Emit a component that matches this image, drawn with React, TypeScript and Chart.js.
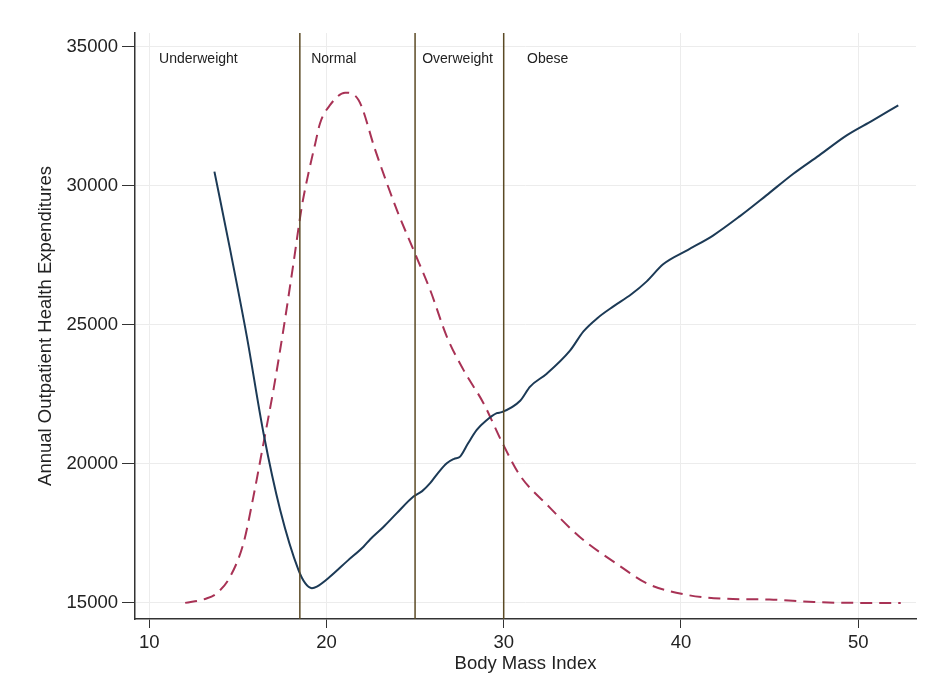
import React, { useEffect, useRef } from "react";
import { Chart, registerables } from "chart.js";

Chart.register(...registerables);

// Blue solid line: annual outpatient health expenditures by BMI
const bmiCost = [13.68, 14.57, 15.51, 16.45, 17.39, 18.42, 18.8, 19.18, 19.46, 20.21, 21.2, 22.09, 22.46, 23.2, 23.97, 24.91, 25.4, 25.85, 26.3, 26.79, 27.2, 27.54, 28.0, 28.48, 29.0, 29.61, 29.89, 30.93, 31.49, 32.43, 33.74, 34.5, 35.3, 36.19, 37.2, 38.07, 39.01, 40.4, 41.83, 43.33, 44.8, 46.34, 47.8, 49.35, 50.8, 52.26];
const costValues = [30514, 27697, 24579, 21104, 18345, 16187, 15709, 15529, 15586, 15946, 16520, 17020, 17280, 17720, 18227, 18824, 19020, 19306, 19680, 20025, 20180, 20262, 20750, 21223, 21550, 21823, 21860, 22273, 22780, 23245, 24072, 24766, 25250, 25665, 26100, 26565, 27187, 27700, 28223, 28913, 29650, 30438, 31100, 31819, 32350, 32899];

// Red dashed line: BMI density (scaled)
const bmiDensity = [12.03, 13.2, 13.82, 14.57, 15.32, 15.88, 16.45, 17.01, 17.57, 18.14, 18.61, 19.0, 19.36, 19.64, 20.21, 21.05, 21.81, 22.75, 23.41, 23.97, 24.91, 25.85, 26.79, 27.73, 28.86, 29.89, 30.93, 32.43, 34.31, 36.56, 38.07, 40.33, 42.5, 45.0, 47.5, 50.0, 52.4];
const densityValues = [15000, 15150, 15349, 15946, 17147, 18824, 20745, 22662, 24820, 27219, 29255, 30500, 31500, 32255, 32913, 33355, 33093, 31294, 30095, 29136, 27697, 26259, 24579, 23381, 22183, 20800, 19575, 18539, 17363, 16324, 15701, 15288, 15150, 15120, 15030, 15000, 15000];

// BMI category cut-offs and labels
const cutoffs = [18.5, 25, 30];
const categoryLabels = ["Underweight", "Normal", "Overweight", "Obese"];
const labelBmi = [10.56, 19.14, 25.4, 31.32];
const labelLevel = 34570;

const xTicks = [10, 20, 30, 40, 50];
const yTicks = [15000, 20000, 25000, 30000, 35000];
const xMin = 9.2;
const xMax = 53.26;
const yMin = 14420;
const yMax = 35500;

const FONT = "'Liberation Sans', Arial, sans-serif";

export default function App() {
  const canvasRef = useRef<HTMLCanvasElement | null>(null);

  useEffect(() => {
    document.body.style.margin = "0";
    document.body.style.background = "#ffffff";
    const canvas = canvasRef.current;
    if (!canvas) return;

    const labelPlugin = {
      id: "categoryLabels",
      afterDatasetsDraw(chart: any) {
        const { ctx, scales } = chart;
        ctx.save();
        ctx.font = `14px ${FONT}`;
        ctx.fillStyle = "#222222";
        ctx.textAlign = "left";
        ctx.textBaseline = "middle";
        categoryLabels.forEach((t, i) => {
          ctx.fillText(t, scales.x.getPixelForValue(labelBmi[i]), scales.y.getPixelForValue(labelLevel));
        });
        ctx.restore();
      },
    };

    const cutoffSets = cutoffs.map((c) => ({
      label: `cut${c}`,
      data: [
        { x: c, y: yMin },
        { x: c, y: yMax },
      ],
      showLine: true,
      borderColor: "#5b4a25",
      borderWidth: 1.5,
      pointRadius: 0,
    }));

    const chart = new Chart(canvas, {
      type: "scatter",
      data: {
        datasets: [
          ...cutoffSets,
          {
            label: "Expenditures",
            data: bmiCost.map((x, i) => ({ x, y: costValues[i] })),
            showLine: true,
            borderColor: "#1c3a56",
            borderWidth: 2,
            pointRadius: 0,
            cubicInterpolationMode: "monotone",
          },
          {
            label: "Density",
            data: bmiDensity.map((x, i) => ({ x, y: densityValues[i] })),
            showLine: true,
            borderColor: "#a83255",
            borderWidth: 2,
            borderDash: [12, 7],
            pointRadius: 0,
            cubicInterpolationMode: "monotone",
          },
        ] as any,
      },
      options: {
        animation: false,
        responsive: false,
        maintainAspectRatio: false,
        layout: { padding: { top: 33, right: 35, left: 0, bottom: 0 } },
        plugins: {
          legend: { display: false },
          tooltip: { enabled: false },
        },
        scales: {
          x: {
            type: "linear",
            min: xMin,
            max: xMax,
            afterBuildTicks: (scale: any) => {
              scale.ticks = xTicks.map((v) => ({ value: v }));
            },
            afterFit: (scale: any) => {
              scale.height = 78;
            },
            ticks: {
              color: "#222222",
              font: { family: FONT, size: 18.5 },
              padding: 4,
              maxRotation: 0,
              callback: (v: any) => String(v),
            },
            grid: {
              color: "#ececec",
              lineWidth: 1,
              tickColor: "#333333",
              tickLength: 9,
              drawTicks: true,
            },
            border: { display: true, color: "#333333", width: 1.5 },
            title: {
              display: true,
              text: "Body Mass Index",
              color: "#222222",
              font: { family: FONT, size: 18.5 },
              padding: { top: 0, bottom: 22 },
            },
          },
          y: {
            type: "linear",
            min: yMin,
            max: yMax,
            afterBuildTicks: (scale: any) => {
              scale.ticks = yTicks.map((v) => ({ value: v }));
            },
            afterFit: (scale: any) => {
              scale.width = 135;
            },
            ticks: {
              color: "#222222",
              font: { family: FONT, size: 18.5 },
              padding: 4,
              callback: (v: any) => String(v),
            },
            grid: {
              color: "#ececec",
              lineWidth: 1,
              tickColor: "#333333",
              tickLength: 13,
              drawTicks: true,
            },
            border: { display: true, color: "#333333", width: 1.5 },
            title: {
              display: true,
              text: "Annual Outpatient Health Expenditures",
              color: "#222222",
              font: { family: FONT, size: 18.5 },
              padding: { top: 35, bottom: 0 },
            },
          },
        },
      } as any,
      plugins: [labelPlugin],
    });

    return () => chart.destroy();
  }, []);

  return (
    <div style={{ width: 951, height: 697, background: "#ffffff" }}>
      <canvas ref={canvasRef} width={951} height={697} style={{ display: "block", width: 951, height: 697 }} />
    </div>
  );
}
